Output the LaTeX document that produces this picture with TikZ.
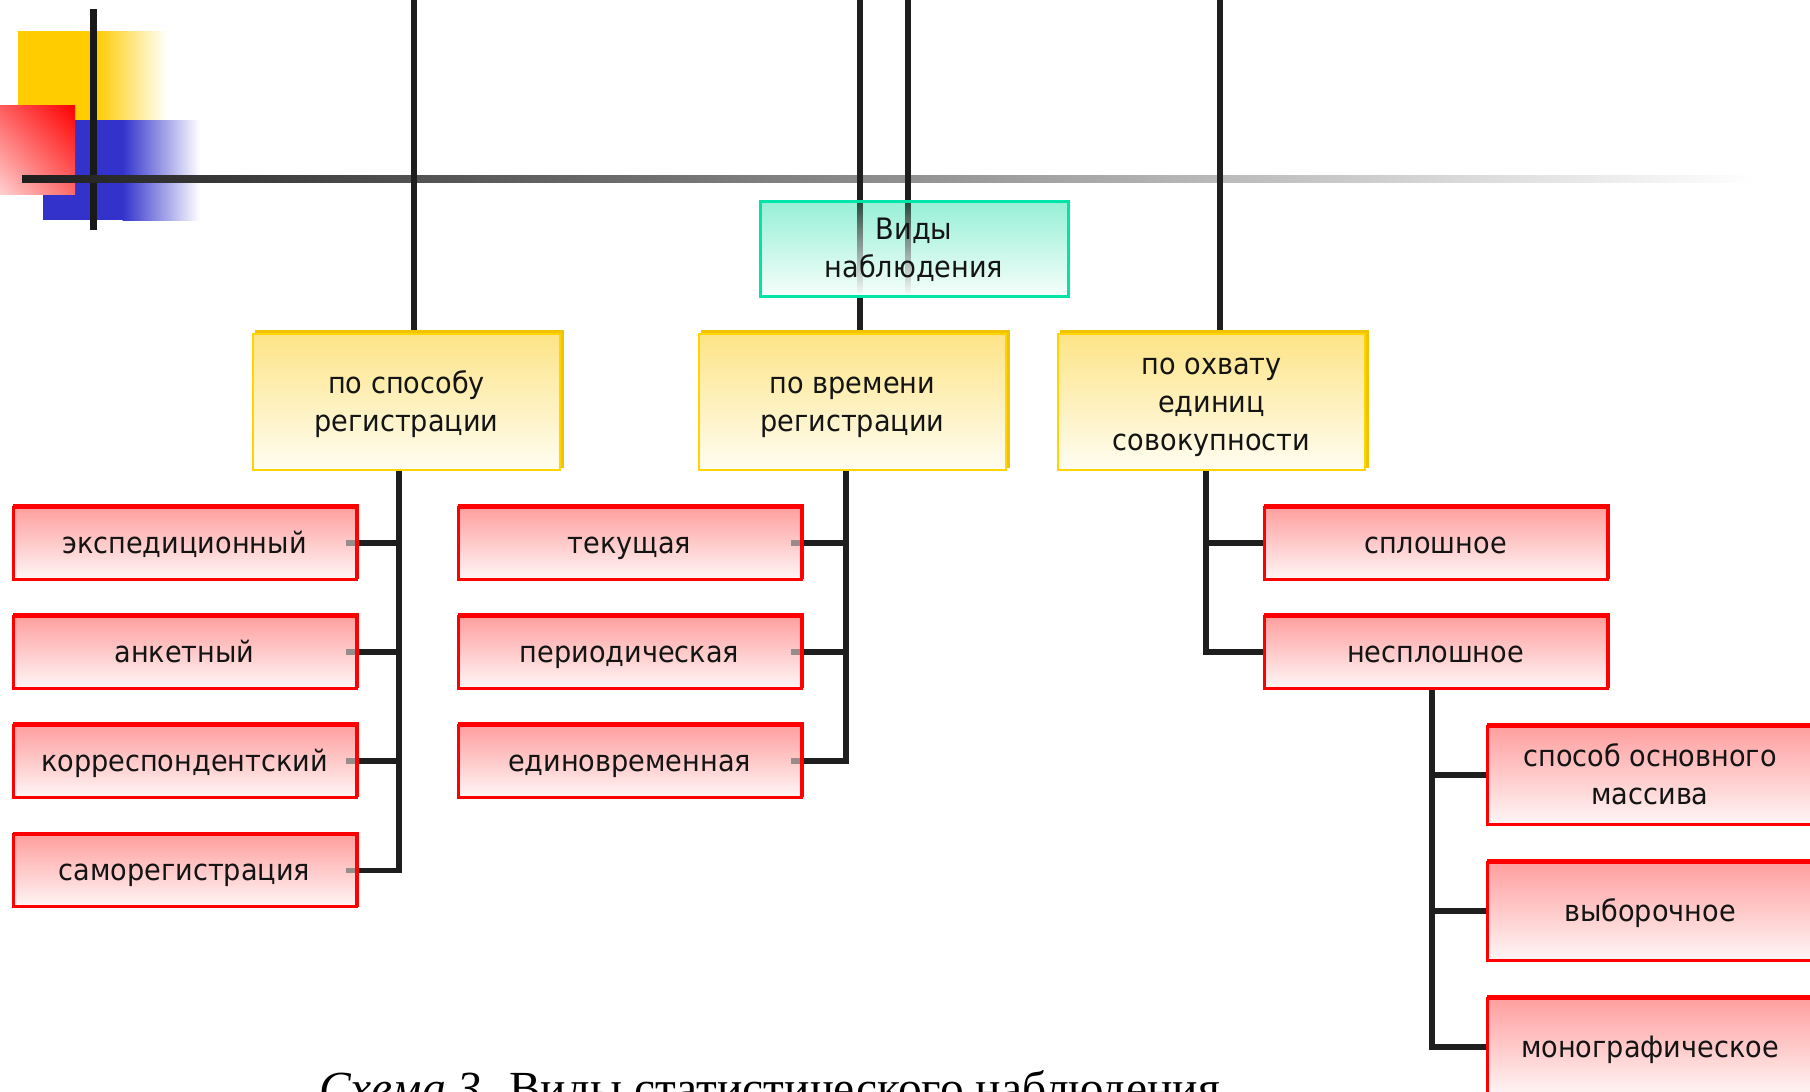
\documentclass[tikz,border=0pt]{standalone}
\usepackage{fontspec}
\setmainfont{DejaVu Sans}[FakeStretch=0.92]
\newfontfamily\capfont{Liberation Serif}
\usetikzlibrary{shadings}
\pgfdeclarelayer{deco}
\pgfdeclarelayer{lines}
\pgfsetlayers{deco,lines,main}
\newcommand\mystrut{\rule[-9pt]{0pt}{38pt}}
\definecolor{lineblk}{RGB}{30,30,30}
\definecolor{tealb}{RGB}{0,228,168}
\definecolor{minttop}{RGB}{150,240,214}
\definecolor{mintbot}{RGB}{246,254,251}
\definecolor{vline}{RGB}{40,72,62}
\definecolor{ybord}{RGB}{255,212,0}
\definecolor{ydark}{RGB}{240,196,0}
\definecolor{ytop}{RGB}{253,228,135}
\definecolor{ybot}{RGB}{255,253,242}
\definecolor{rtop}{RGB}{255,158,158}
\definecolor{rbot}{RGB}{255,246,246}
\definecolor{stubgray}{RGB}{150,140,140}
\definecolor{decoyellow}{RGB}{255,204,0}
\definecolor{decoblue}{RGB}{51,51,204}
\definecolor{sqUL}{RGB}{255,92,92}
\definecolor{sqLL}{RGB}{255,208,208}
\definecolor{sqLR}{RGB}{255,105,105}
\begin{document}
\begin{tikzpicture}[x=1pt,y=-1pt,
  conn/.style={draw=lineblk, line width=5.5pt, line join=miter},
  base/.style={rectangle, align=center, inner sep=0pt, text=black!92,
    font=\fontsize{29.5}{38}\selectfont},
  rootbox/.style={base, draw=tealb, line width=3pt, top color=minttop, bottom color=mintbot,
    minimum width=308pt, minimum height=95pt},
  catbox/.style={base, draw=ybord, line width=2.5pt, top color=ytop, bottom color=ybot,
    minimum width=307pt, minimum height=136pt},
  leafbox/.style={base, draw=red, line width=3pt, top color=rtop, bottom color=rbot,
    minimum width=343pt, minimum height=72pt},
  farbox/.style={leafbox, minimum width=326pt, minimum height=98pt},
  stubbed/.style={path picture={\draw[stubgray, line width=5.5pt]
    ([xshift=-10pt]path picture bounding box.east) -- (path picture bounding box.east);}},
  seethrough/.style={path picture={
    \shade[top color=vline, bottom color=mintbot]
      ([xshift=-56.75pt]path picture bounding box.north) rectangle ([xshift=-51.25pt]path picture bounding box.south);
    \shade[top color=vline, bottom color=mintbot]
      ([xshift=-8.75pt]path picture bounding box.north) rectangle ([xshift=-3.25pt]path picture bounding box.south);}}
]
\useasboundingbox (0,0) rectangle (1810,1092);

% decoration
\begin{pgfonlayer}{deco}
  \fill[decoyellow] (18,31) rectangle (97,120);
  \shade[left color=decoyellow, right color=white] (96.5,31) rectangle (167,120);
  \fill[decoblue] (43,120) rectangle (123,220);
  \shade[left color=decoblue, right color=white] (122.5,120) rectangle (200,220);
  \shade[upper left=sqUL, upper right=red, lower left=sqLL, lower right=sqLR]
         (0,105) rectangle (75,194);
  \fill[black!90] (90,9) rectangle (97,230);
  \shade[left color=black!88, right color=white] (22,175) rectangle (1755,182);
\end{pgfonlayer}

% nodes
\node[rootbox, seethrough] (v) at (914,248.5) {Виды\mystrut\\наблюдения\mystrut};
\node[catbox] (y1) at (406.5,402) {по способу\mystrut\\регистрации\mystrut};
\node[catbox] (y2) at (852.5,402) {по времени\mystrut\\регистрации\mystrut};
\node[catbox] (y3) at (1211.5,402) {по охвату\mystrut\\единиц\mystrut\\совокупности\mystrut};

\node[leafbox, stubbed] (l1) at (184.5,543) {экспедиционный\mystrut};
\node[leafbox, stubbed] (l2) at (184.5,652) {анкетный\mystrut};
\node[leafbox, stubbed] (l3) at (184.5,761) {корреспондентский\mystrut};
\node[leafbox, stubbed] (l4) at (184.5,870.5) {саморегистрация\mystrut};

\node[leafbox, stubbed] (m1) at (629.5,543) {текущая\mystrut};
\node[leafbox, stubbed] (m2) at (629.5,652) {периодическая\mystrut};
\node[leafbox, stubbed] (m3) at (629.5,761) {единовременная\mystrut};

\node[leafbox] (r1) at (1435.5,543) {сплошное\mystrut};
\node[leafbox] (r2) at (1435.5,652) {несплошное\mystrut};

\node[farbox] (f1) at (1650,775) {способ основного\mystrut\\массива\mystrut};
\node[farbox] (f2) at (1650,911) {выборочное\mystrut};
\node[farbox] (f3) at (1650,1047) {монографическое\mystrut};

\node[anchor=base west, inner sep=0pt, font=\capfont\fontsize{47.5}{52}\selectfont] (cap) at (319,1104)
  {\textit{Схема 3.} Виды статистического наблюдения};

% connectors
\begin{pgfonlayer}{lines}
  \coordinate (a1) at (414,0);
  \coordinate (a2) at (860,0);
  \coordinate (a3) at (908,0);
  \coordinate (a4) at (1220,0);
  \draw[conn] (a1) -- (a1 |- y1.north);
  \draw[conn] (a2) -- (a2 |- y2.north);
  \draw[conn] (a3) -- (a3 |- v.south);
  \draw[conn] (a4) -- (a4 |- y3.north);

  \coordinate (tl) at (399,0);
  \draw[conn] (tl |- y1.south) -- (tl |- l4.east) -- (l4.east);
  \foreach \n in {l1,l2,l3} \draw[conn] (tl |- \n.east) -- (\n.east);

  \coordinate (tm) at (846,0);
  \draw[conn] (tm |- y2.south) -- (tm |- m3.east) -- (m3.east);
  \foreach \n in {m1,m2} \draw[conn] (tm |- \n.east) -- (\n.east);

  \coordinate (tr) at (1206,0);
  \draw[conn] (tr |- y3.south) -- (tr |- r2.west) -- (r2.west);
  \draw[conn] (tr |- r1.west) -- (r1.west);

  \coordinate (tf) at (1432,0);
  \draw[conn] (tf |- r2.south) -- (tf |- f3.west) -- (f3.west);
  \foreach \n in {f1,f2} \draw[conn] (tf |- \n.west) -- (\n.west);

  % 3D edges behind boxes
  \foreach \n in {y1,y2,y3}
    \fill[ydark] ([shift={(3,-3)}]\n.south west) rectangle ([shift={(3,-3)}]\n.north east);
  \foreach \n in {l1,l2,l3,l4,m1,m2,m3,r1,r2,f1,f2,f3}
    \fill[red] ([shift={(1.5,-1.5)}]\n.south west) rectangle ([shift={(1.5,-1.5)}]\n.north east);
\end{pgfonlayer}
\end{tikzpicture}
\end{document}
